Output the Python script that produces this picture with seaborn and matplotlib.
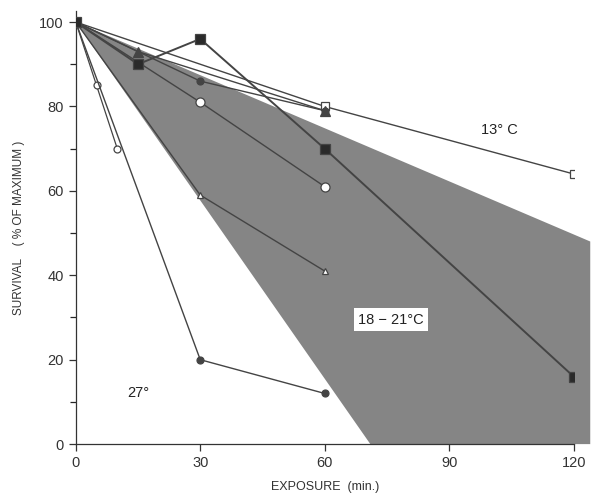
import numpy as np
import pandas as pd
import seaborn as sns
import matplotlib.pyplot as plt
from matplotlib.patches import Polygon

# exposure (min) and survival (% of maximum)
open_sq_x = [0, 60, 120]
open_sq_y = [100, 80, 64]

filled_sq_x = [0, 15, 30, 60, 120]
filled_sq_y = [100, 90, 96, 70, 16]

filled_tri_x = [0, 15, 60]
filled_tri_y = [100, 93, 79]

filled_dot_x = [0, 30, 60]
filled_dot_y = [100, 86, 79]

open_circ_x = [0, 30, 60]
open_circ_y = [100, 81, 61]

open_tri_x = [0, 30, 60]
open_tri_y = [100, 59, 41]

hot_x = [0, 30, 60]
hot_y = [100, 20, 12]

small_open_x = [0, 5, 10]
small_open_y = [100, 85, 70]

# shaded 18-21 C envelope
band_x = [0, 124, 124, 71]
band_y = [100, 48, 0, 0]

x_ticks = [0, 30, 60, 90, 120]
y_ticks = [0, 20, 40, 60, 80, 100]

sns.set_style("ticks")
plt.rcParams['font.family'] = ['Liberation Sans', 'DejaVu Sans']

fig = plt.figure(figsize=(5.92, 4.99), dpi=100)
ax = fig.add_axes([0.128, 0.110, 0.841, 0.867])

band = Polygon(np.column_stack([band_x, band_y]), closed=True, facecolor='#858585',
               edgecolor='none', clip_on=False, zorder=1)
ax.add_patch(band)

line_col = '#444444'
# drawn in order, last one ends on top at the shared (0, 100) start
series = [
    (small_open_x, small_open_y, 'o', 'white', 5, 0.9),
    (open_sq_x, open_sq_y, 's', 'white', 6, 1.0),
    (filled_dot_x, filled_dot_y, 'o', line_col, 5, 1.0),
    (filled_tri_x, filled_tri_y, '^', line_col, 7, 1.0),
    (open_circ_x, open_circ_y, 'o', 'white', 6.5, 1.0),
    (open_tri_x, open_tri_y, '^', 'white', 5, 1.0),
    (hot_x, hot_y, 'o', line_col, 5, 1.0),
    (filled_sq_x, filled_sq_y, 's', '#2a2a2a', 7, 1.4),
]
for xs, ys, mk, fc, ms, lw in series:
    df = pd.DataFrame({'x': xs, 'y': ys})
    sns.lineplot(data=df, x='x', y='y', ax=ax, color=line_col, linewidth=lw,
                 marker=mk, markersize=ms, markerfacecolor=fc,
                 markeredgecolor=line_col, markeredgewidth=0.9,
                 sort=False, zorder=3)

ax.text(102, 74.5, '13° C', fontsize=10.5, ha='center', va='center', color='#222222')
ax.text(76, 29.5, '18 − 21°C', fontsize=10.5, ha='center', va='center', color='#222222',
        bbox=dict(facecolor='white', edgecolor='none', pad=3))
ax.text(15, 12, '27°', fontsize=10.5, ha='center', va='center', color='#222222')

ax.set_xlim(0, 120)
ax.set_ylim(0, 102.5)
ax.set_xticks(x_ticks)
ax.set_yticks(y_ticks)
ax.set_yticks([10, 30, 50, 70, 90], minor=True)
ax.tick_params(axis='both', labelsize=10.5, colors='#333333', length=5, width=0.9)
ax.tick_params(axis='y', which='minor', length=4, width=0.9)
sns.despine(ax=ax)
for s in ['left', 'bottom']:
    ax.spines[s].set_color('#333333')
    ax.spines[s].set_linewidth(0.9)

ax.set_xlabel('EXPOSURE  (min.)', fontsize=9, color='#333333', labelpad=8)
ax.set_ylabel('SURVIVAL    ( % OF MAXIMUM )', fontsize=8.5, color='#333333', labelpad=10)

fig.savefig('out.png', dpi=100)
